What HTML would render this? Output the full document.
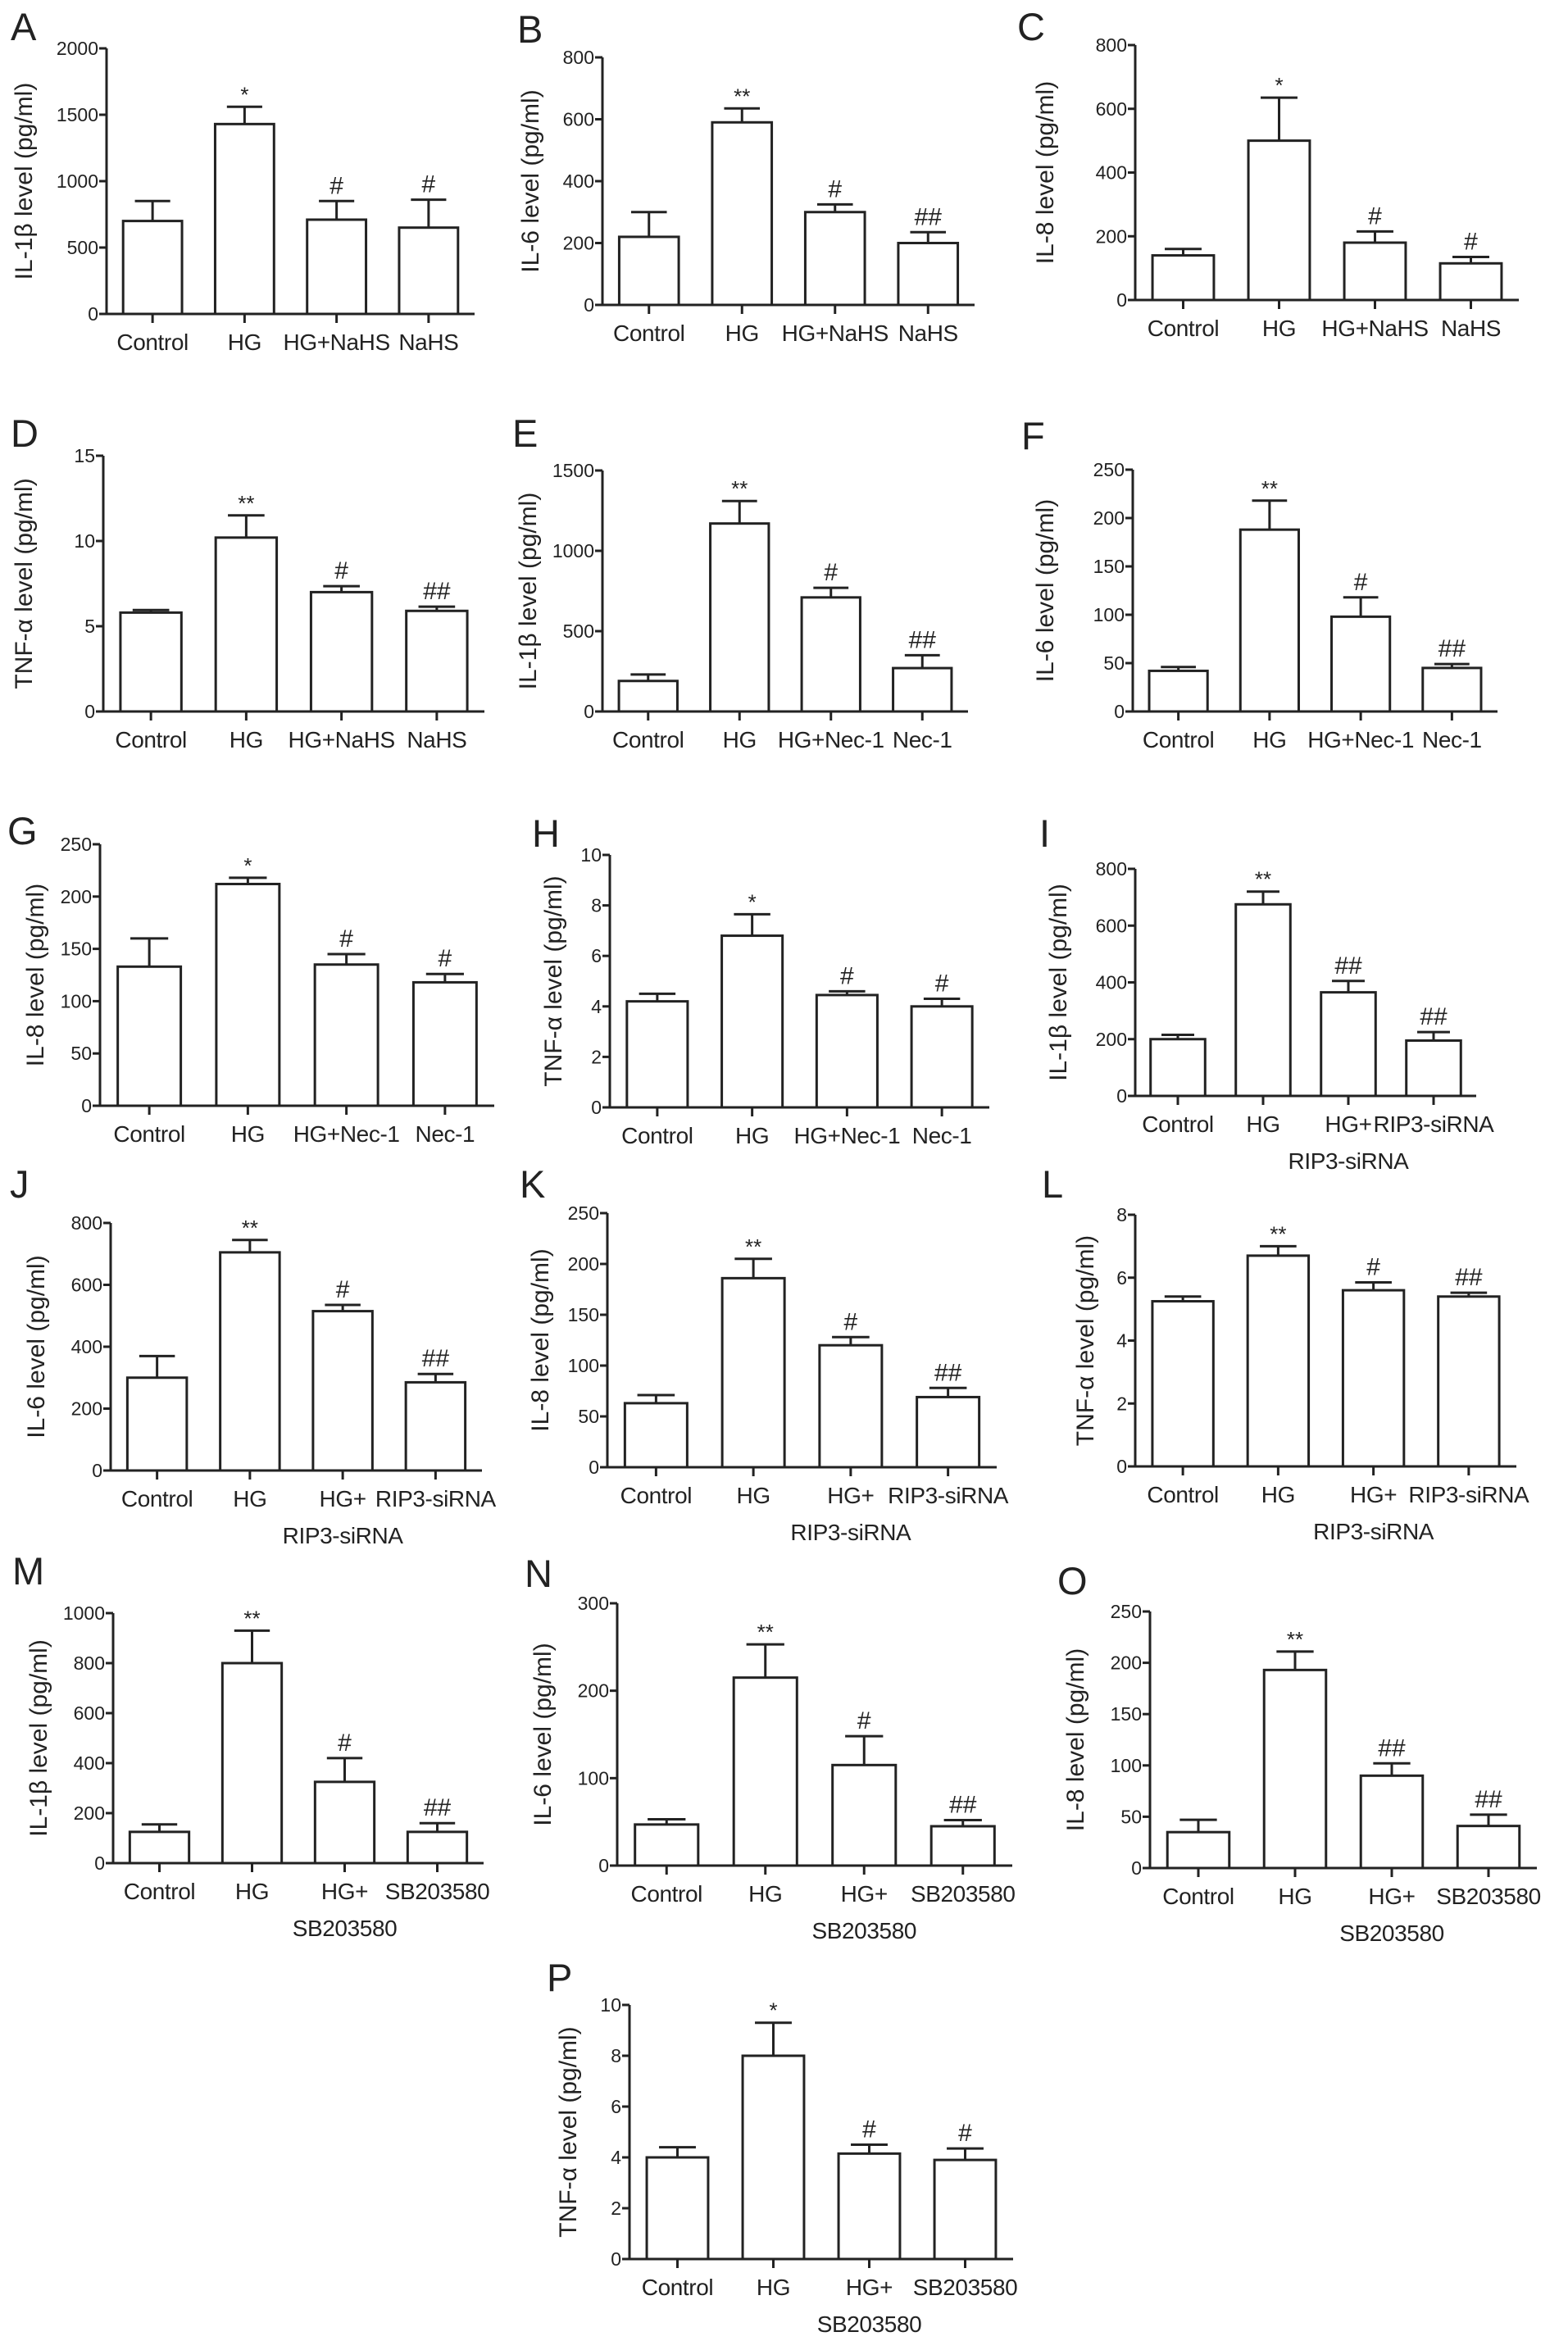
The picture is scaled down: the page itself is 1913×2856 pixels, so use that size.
<!DOCTYPE html>
<html><head><meta charset="utf-8"><style>
html,body{margin:0;padding:0;background:#fff;}
svg{display:block;font-family:"Liberation Sans",Arial,sans-serif;}
</style></head><body>
<svg id="fig" width="1913" height="2856" viewBox="0 0 1913 2856" xmlns="http://www.w3.org/2000/svg"></svg>
<script>
// ---- data ----
const catsNaHS = ["Control","HG","HG+NaHS","NaHS"];
const catsNec = ["Control","HG","HG+Nec-1","Nec-1"];
const catsRIP = ["Control","HG","HG+","RIP3-siRNA"];
const catsSB = ["Control","HG","HG+","SB203580"];

const valsA = [700,1430,710,650];   const errA = [850,1560,850,860];   const markA = ["","*","#","#"];   const ticksA = [0,500,1000,1500,2000];
const valsB = [220,590,300,200];    const errB = [300,635,325,235];    const markB = ["","**","#","##"]; const ticksB = [0,200,400,600,800];
const valsC = [140,500,180,115];    const errC = [160,635,215,135];    const markC = ["","*","#","#"];   const ticksC = [0,200,400,600,800];
const valsD = [5.8,10.2,7.0,5.9];   const errD = [5.95,11.5,7.35,6.15]; const markD = ["","**","#","##"]; const ticksD = [0,5,10,15];
const valsE = [190,1170,710,270];   const errE = [230,1310,770,350];   const markE = ["","**","#","##"]; const ticksE = [0,500,1000,1500];
const valsF = [42,188,98,45];       const errF = [46,218,118,49];      const markF = ["","**","#","##"]; const ticksF = [0,50,100,150,200,250];
const valsG = [133,212,135,118];    const errG = [160,218,145,126];    const markG = ["","*","#","#"];   const ticksG = [0,50,100,150,200,250];
const valsH = [4.2,6.8,4.45,4.0];   const errH = [4.5,7.65,4.6,4.3];   const markH = ["","*","#","#"];   const ticksH = [0,2,4,6,8,10];
const valsI = [200,675,365,195];    const errI = [215,720,405,225];    const markI = ["","**","##","##"]; const ticksI = [0,200,400,600,800];
const valsJ = [300,705,515,285];    const errJ = [370,745,535,312];    const markJ = ["","**","#","##"]; const ticksJ = [0,200,400,600,800];
const valsK = [63,186,120,69];      const errK = [71,205,128,78];      const markK = ["","**","#","##"]; const ticksK = [0,50,100,150,200,250];
const valsL = [5.25,6.7,5.6,5.4];   const errL = [5.4,7.0,5.85,5.52];  const markL = ["","**","#","##"]; const ticksL = [0,2,4,6,8];
const valsM = [125,800,325,125];    const errM = [155,930,420,160];    const markM = ["","**","#","##"]; const ticksM = [0,200,400,600,800,1000];
const valsN = [47,215,115,45];      const errN = [53,253,148,52];      const markN = ["","**","#","##"]; const ticksN = [0,100,200,300];
const valsO = [35,193,90,41];       const errO = [47,211,102,52];      const markO = ["","**","##","##"]; const ticksO = [0,50,100,150,200,250];
const valsP = [4.0,8.0,4.15,3.9];   const errP = [4.4,9.3,4.5,4.35];   const markP = ["","*","#","#"];   const ticksP = [0,2,4,6,8,10];

// ---- layout ----
const panels = [
 {id:"A",ax:130,w:449,top:59,y0:383,vals:valsA,err:errA,mark:markA,ticks:ticksA,cats:catsNaHS,title:"IL-1β level (pg/ml)",lx:13,lb:49,tx:28},
 {id:"B",ax:735,w:454,top:70,y0:372,vals:valsB,err:errB,mark:markB,ticks:ticksB,cats:catsNaHS,title:"IL-6 level (pg/ml)",lx:631,lb:52,tx:646},
 {id:"C",ax:1385,w:468,top:55,y0:366,vals:valsC,err:errC,mark:markC,ticks:ticksC,cats:catsNaHS,title:"IL-8 level (pg/ml)",lx:1241,lb:49,tx:1274},
 {id:"D",ax:126,w:465,top:556,y0:868,vals:valsD,err:errD,mark:markD,ticks:ticksD,cats:catsNaHS,title:"TNF-α level (pg/ml)",lx:13,lb:545,tx:28},
 {id:"E",ax:735,w:446,top:574,y0:868,vals:valsE,err:errE,mark:markE,ticks:ticksE,cats:catsNec,title:"IL-1β level (pg/ml)",lx:625,lb:545,tx:643},
 {id:"F",ax:1382,w:445,top:573,y0:868,vals:valsF,err:errF,mark:markF,ticks:ticksF,cats:catsNec,title:"IL-6 level (pg/ml)",lx:1246,lb:548,tx:1274},
 {id:"G",ax:122,w:481,top:1030,y0:1349,vals:valsG,err:errG,mark:markG,ticks:ticksG,cats:catsNec,title:"IL-8 level (pg/ml)",lx:9,lb:1030,tx:42},
 {id:"H",ax:744,w:463,top:1043,y0:1351,vals:valsH,err:errH,mark:markH,ticks:ticksH,cats:catsNec,title:"TNF-α level (pg/ml)",lx:649,lb:1033,tx:674},
 {id:"I",ax:1385,w:416,top:1060,y0:1337,vals:valsI,err:errI,mark:markI,ticks:ticksI,cats:catsRIP,sub:"RIP3-siRNA",title:"IL-1β level (pg/ml)",lx:1268,lb:1033,tx:1290},
 {id:"J",ax:135,w:453,top:1492,y0:1794,vals:valsJ,err:errJ,mark:markJ,ticks:ticksJ,cats:catsRIP,sub:"RIP3-siRNA",title:"IL-6 level (pg/ml)",lx:12,lb:1461,tx:43},
 {id:"K",ax:741,w:475,top:1480,y0:1790,vals:valsK,err:errK,mark:markK,ticks:ticksK,cats:catsRIP,sub:"RIP3-siRNA",title:"IL-8 level (pg/ml)",lx:634,lb:1461,tx:658},
 {id:"L",ax:1385,w:465,top:1482,y0:1789,vals:valsL,err:errL,mark:markL,ticks:ticksL,cats:catsRIP,sub:"RIP3-siRNA",title:"TNF-α level (pg/ml)",lx:1271,lb:1461,tx:1323},
 {id:"M",ax:138,w:452,top:1968,y0:2273,vals:valsM,err:errM,mark:markM,ticks:ticksM,cats:catsSB,sub:"SB203580",title:"IL-1β level (pg/ml)",lx:15,lb:1933,tx:46},
 {id:"N",ax:753,w:482,top:1956,y0:2276,vals:valsN,err:errN,mark:markN,ticks:ticksN,cats:catsSB,sub:"SB203580",title:"IL-6 level (pg/ml)",lx:640,lb:1936,tx:661},
 {id:"O",ax:1403,w:472,top:1966,y0:2279,vals:valsO,err:errO,mark:markO,ticks:ticksO,cats:catsSB,sub:"SB203580",title:"IL-8 level (pg/ml)",lx:1290,lb:1945,tx:1311},
 {id:"P",ax:768,w:468,top:2446,y0:2756,vals:valsP,err:errP,mark:markP,ticks:ticksP,cats:catsSB,sub:"SB203580",title:"TNF-α level (pg/ml)",lx:667,lb:2429,tx:692}
];
const STROKE = "#222", SW = 3;
const NS = "http://www.w3.org/2000/svg";
const svg = document.getElementById("fig");

function mk(tag, attrs, parent){
  const e = document.createElementNS(NS, tag);
  for (const k in attrs) e.setAttribute(k, attrs[k]);
  (parent||svg).appendChild(e);
  return e;
}
function txt(parent, x, y, s, size, anchor, rot){
  const t = mk("text", {x:x, y:y, "font-size":size, "text-anchor":anchor, fill:"#222"}, parent);
  if (rot) t.setAttribute("transform", `rotate(${rot} ${x} ${y})`);
  t.textContent = s;
  return t;
}

panels.forEach(p => {
  const g = mk("g", {});
  
  
  const W = p.w;
  const max = p.ticks[p.ticks.length-1];
  const yS = v => p.y0 - (v/max)*(p.y0 - p.top);
  const xC = i => p.ax + W*(0.125 + 0.25*i);
  const bw = W*0.16;

  const letter = txt(g, p.lx, p.lb, p.id, 47, "start", 0);
  
  

  const yax = mk("line", {x1:p.ax, y1:p.top, x2:p.ax, y2:p.y0, stroke:STROKE, "stroke-width":SW}, g);
  
  
  p.ticks.forEach(t => {
    const y = yS(t);
    mk("line", {x1:p.ax-9, y1:y, x2:p.ax, y2:y, stroke:STROKE, "stroke-width":SW}, g);
    const tl = txt(g, p.ax - 10, y + 8, String(t), 23, "end", 0);
    
    
  });
  const xax = mk("line", {x1:p.ax, y1:p.y0, x2:p.ax+W, y2:p.y0, stroke:STROKE, "stroke-width":SW}, g);
  
  

  const yt = txt(g, p.tx + 11, (p.top + p.y0)/2, p.title, 30, "middle", -90);
  
  

  p.vals.forEach((v, i) => {
    const cx = xC(i);
    const yv = yS(v), ye = yS(p.err[i]);
    const bar = mk("rect", {x:cx-bw/2, y:yv, width:bw, height:p.y0-yv, fill:"#fff", stroke:STROKE, "stroke-width":SW}, g);
    
    
    const eb = mk("path", {d:`M${cx},${yv}V${ye}M${cx-bw*0.3},${ye}H${cx+bw*0.3}`, stroke:STROKE, "stroke-width":SW, fill:"none"}, g);
    
    
    mk("line", {x1:cx, y1:p.y0, x2:cx, y2:p.y0+11, stroke:STROKE, "stroke-width":SW}, g);
    if (p.mark[i]) {
      const isStar = p.mark[i].indexOf("*") >= 0;
      const m = txt(g, cx, ye - (isStar ? 6 : 9), p.mark[i], isStar ? 26 : 30, "middle", 0);
      
      
    }
    const cl = txt(g, cx, p.y0 + 44, p.cats[i], 28, "middle", 0);
    cl.setAttribute('letter-spacing', '-0.4');
    
    
  });
  if (p.sub) {
    const sl = txt(g, xC(2), p.y0 + 89, p.sub, 28, "middle", 0);
    sl.setAttribute('letter-spacing', '-0.4');
    
    
  }
});
</script>
</body></html>
